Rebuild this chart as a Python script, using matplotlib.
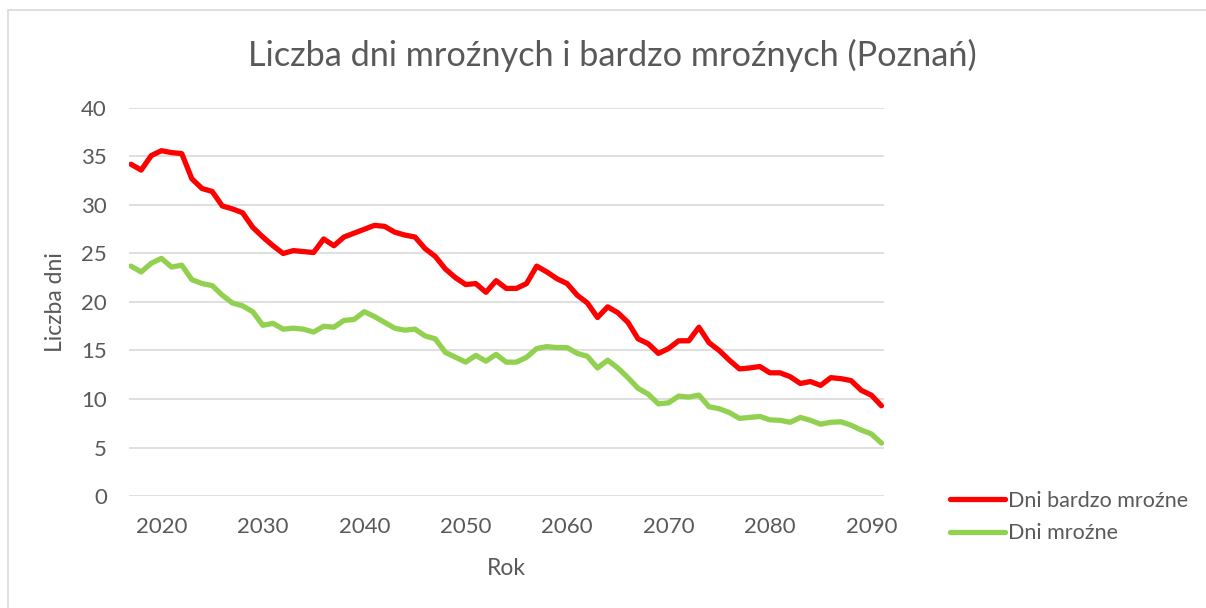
import matplotlib
matplotlib.use('Agg')
import matplotlib.pyplot as plt
from matplotlib.patches import Rectangle

# Dane (Poznań, lata 2017-2091)
years = list(range(2017, 2092))

bardzo_mrozne = [
    34.2, 33.6, 35.1, 35.6, 35.4, 35.3, 32.7, 31.7, 31.4, 29.9,
    29.6, 29.2, 27.7, 26.7, 25.8, 25.0, 25.3, 25.2, 25.1, 26.5,
    25.8, 26.7, 27.1, 27.5, 27.9, 27.8, 27.2, 26.9, 26.7, 25.5,
    24.7, 23.4, 22.5, 21.8, 21.9, 21.0, 22.2, 21.4, 21.4, 21.9,
    23.7, 23.1, 22.4, 21.9, 20.7, 19.9, 18.4, 19.5, 18.9, 17.9,
    16.2, 15.7, 14.7, 15.2, 16.0, 16.0, 17.4, 15.8, 15.0, 14.0,
    13.1, 13.2, 13.35, 12.7, 12.7, 12.3, 11.6, 11.8, 11.4, 12.2,
    12.1, 11.9, 10.9, 10.4, 9.3,
]

mrozne = [
    23.7, 23.1, 24.0, 24.5, 23.6, 23.8, 22.3, 21.9, 21.7, 20.7,
    19.9, 19.6, 19.0, 17.6, 17.8, 17.2, 17.3, 17.2, 16.9, 17.5,
    17.4, 18.1, 18.2, 19.0, 18.5, 17.9, 17.3, 17.1, 17.2, 16.5,
    16.2, 14.8, 14.3, 13.8, 14.5, 13.9, 14.6, 13.8, 13.8, 14.3,
    15.2, 15.4, 15.3, 15.3, 14.7, 14.4, 13.2, 14.0, 13.2, 12.2,
    11.1, 10.5, 9.5, 9.6, 10.3, 10.2, 10.4, 9.2, 9.0, 8.6,
    8.0, 8.1, 8.2, 7.85, 7.8, 7.6, 8.1, 7.8, 7.4, 7.6,
    7.65, 7.3, 6.8, 6.4, 5.45,
]

x_ticks = [2020, 2030, 2040, 2050, 2060, 2070, 2080, 2090]
y_ticks = [0, 5, 10, 15, 20, 25, 30, 35, 40]

text_color = '#595959'
plt.rcParams['font.family'] = ['Lato', 'DejaVu Sans']

fig = plt.figure(figsize=(12.06, 6.08), dpi=100)
ax = fig.add_axes([129 / 1206, 1 - 496 / 608, 755 / 1206, 388 / 608])

# ramka wykresu jak w Excelu
fig.patches.append(Rectangle((8 / 1206, -0.05), 1.1, 1 - 10 / 608 + 0.05,
                             transform=fig.transFigure, fill=False,
                             edgecolor='#D9D9D9', linewidth=1.2))

ax.plot(years, bardzo_mrozne, color='#FF0000', linewidth=3.8,
        solid_capstyle='round', solid_joinstyle='round', label='Dni bardzo mroźne')
ax.plot(years, mrozne, color='#92D050', linewidth=3.8,
        solid_capstyle='round', solid_joinstyle='round', label='Dni mroźne')

ax.set_xlim(2016.8, 2091.25)
ax.set_ylim(0, 40)
ax.set_xticks(x_ticks)
ax.set_yticks(y_ticks)
ax.grid(axis='y', color='#D9D9D9', linewidth=1.2)
ax.set_axisbelow(True)
for s in ax.spines.values():
    s.set_visible(False)
ax.tick_params(length=0, labelsize=16, labelcolor=text_color)
ax.tick_params(axis='x', pad=15)
ax.tick_params(axis='y', pad=16)

ax.set_xlabel('Rok', fontsize=16.5, color=text_color, labelpad=15)
ax.set_ylabel('Liczba dni', fontsize=16.5, color=text_color, labelpad=11)

fig.text(612 / 1206, 1 - 55 / 608, 'Liczba dni mroźnych i bardzo mroźnych (Poznań)',
         ha='center', va='center', fontsize=24.7, color=text_color)

fig.legend(loc='center left', bbox_to_anchor=(931 / 1206, 1 - 517 / 608),
           frameon=False, fontsize=15.5, handlelength=2.55, handletextpad=0.15,
           labelspacing=0.6, labelcolor=text_color)

fig.savefig('out.png', dpi=100)
